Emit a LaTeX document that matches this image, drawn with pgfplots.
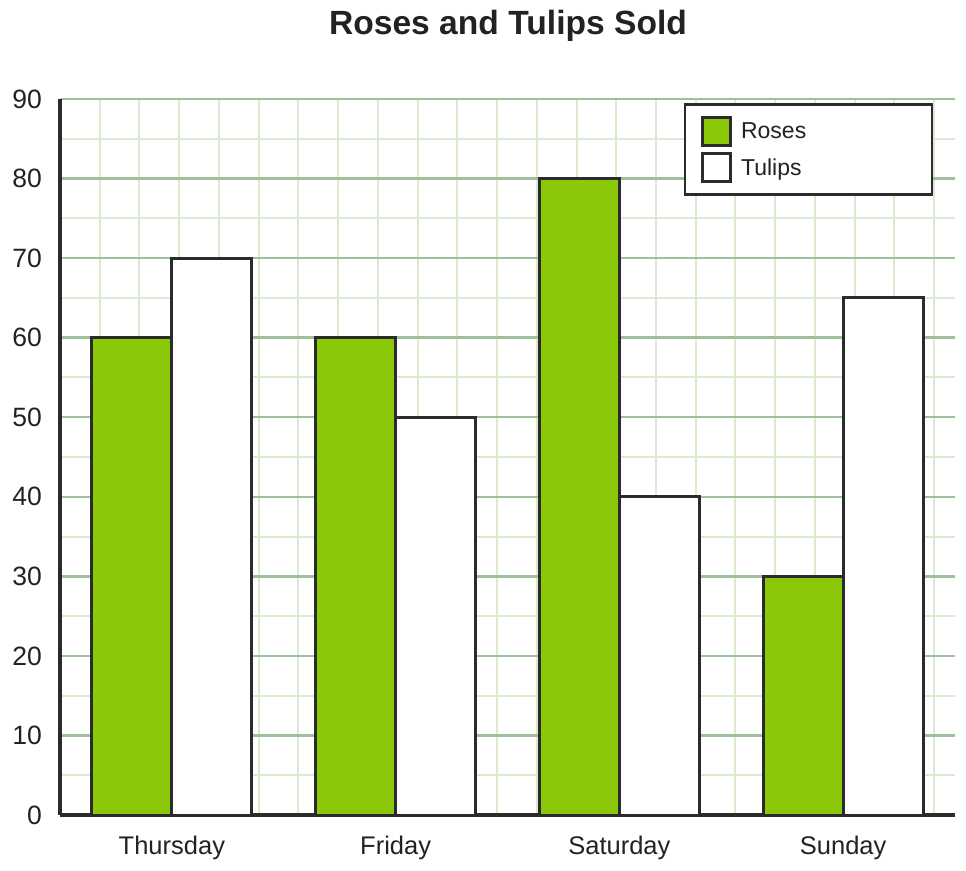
\documentclass[border=0pt]{standalone}
\usepackage{fontspec}
\setmainfont{Liberation Sans}
\usepackage{pgfplots}
\pgfplotsset{compat=1.18}
\definecolor{rose}{RGB}{138,200,8}
\definecolor{edge}{RGB}{43,43,43}
\definecolor{majg}{RGB}{158,192,155}
\definecolor{ming}{RGB}{220,235,208}
\definecolor{txt}{RGB}{34,34,34}
\begin{document}
\begin{tikzpicture}
\begin{axis}[
 at={(0pt,0pt)}, anchor=south west,
 scale only axis, width=895pt, height=716pt,
 xmin=-0.5, xmax=3.5, ymin=0, ymax=90,
 ybar, bar width=0.357,
 xtick={0,1,2,3}, xticklabels={Thursday,Friday,Saturday,Sunday},
 ytick={0,10,...,90}, minor ytick={5,15,...,85},
 minor xtick={-0.3224,-0.1448,0.0327,0.2103,0.3879,0.5655,0.7431,0.9206,1.0982,1.2758,1.4534,1.6310,1.8085,1.9861,2.1637,2.3413,2.5189,2.6964,2.8740,3.0516,3.2292,3.4068},
 ymajorgrids, yminorgrids, xminorgrids,
 major grid style={majg, line width=2.5pt},
 minor grid style={ming, line width=2pt},
 axis x line=bottom, axis y line=left,
 axis line style={-, edge, line width=4pt},
 major tick length=0pt, minor tick length=0pt,
 /pgf/number format/assume math mode=true,
 tick label style={text=txt, inner sep=0pt},
 yticklabel style={font=\fontsize{26.5}{30}\selectfont, anchor=east, xshift=-18pt},
 xticklabel style={font=\fontsize{25.5}{30}\selectfont, anchor=base, yshift=-39pt},
 legend image code/.code={\draw[#1, line width=3pt] (0pt,-14pt) rectangle (28pt,14pt);},
 legend cell align=left,
 legend style={at={(0.697,0.994)}, anchor=north west, draw=edge, line width=2.5pt, fill=white,
   inner xsep=16pt, inner ysep=11.5pt, row sep=5pt, column sep=9pt,
   font=\fontsize{23}{27}\selectfont, text=txt,
   nodes={inner sep=0pt}},
]
\addplot[fill=rose, draw=edge, line width=3pt, bar shift=-0.1786] coordinates {(0,60) (1,60) (2,80) (3,30)};
\addlegendentry{\makebox[175pt][l]{Roses}}
\addplot[fill=white, draw=edge, line width=3pt, bar shift=0.1786] coordinates {(0,70) (1,50) (2,40) (3,65)};
\addlegendentry{\makebox[175pt][l]{Tulips}}
\end{axis}
\node[font=\bfseries\fontsize{33.6}{40}\selectfont, text=txt, anchor=base] at (448pt,780pt) {Roses and Tulips Sold};
\pgfresetboundingbox
\path[use as bounding box] (-60pt,-55pt) rectangle (906pt,815pt);
\end{tikzpicture}
\end{document}
